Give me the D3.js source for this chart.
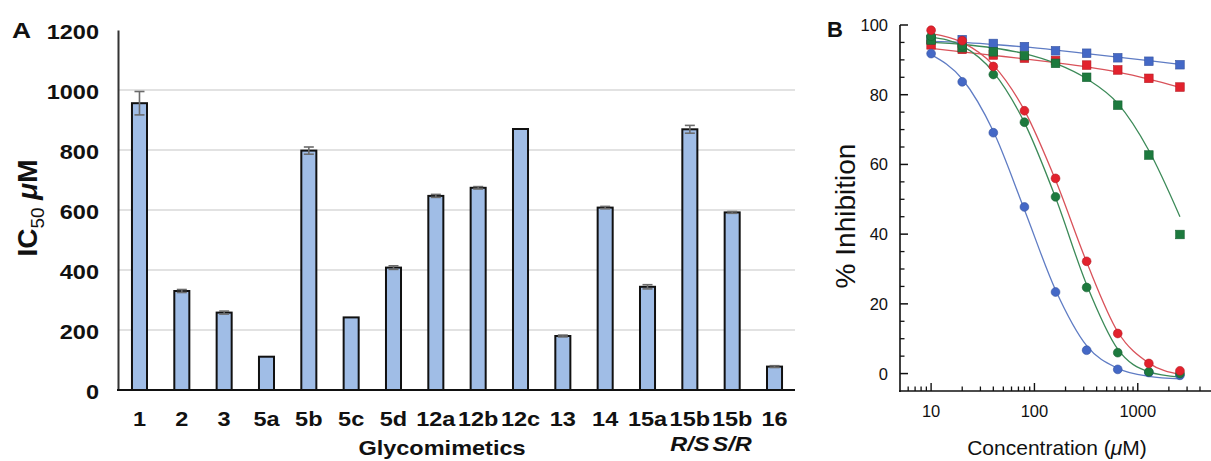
<!DOCTYPE html>
<html>
<head>
<meta charset="utf-8">
<script src="https://cdn.jsdelivr.net/npm/d3@7"></script>
<style>
html,body{margin:0;padding:0;background:#fff;}
svg{display:block;font-family:"Liberation Sans",Arial,sans-serif;}
</style>
</head>
<body>
<svg id="chart" width="1211" height="461"></svg>
<script>
// ---------- Panel A data ----------
const compoundIds = ["1","2","3","5a","5b","5c","5d","12a","12b","12c","13","14","15a","15bRS","15bSR","16"];
const compoundLabels = ["1","2","3","5a","5b","5c","5d","12a","12b","12c","13","14","15a","15b","15b","16"];
const ic50Values = [956,330,258,111,798,242,408,647,674,870,180,608,344,869,592,78];
const ic50Errors = [39,5,5,0,12,0,6,5,4,0,3,4,7,13,3,3];
const ic50Ticks = [0,200,400,600,800,1000,1200];
const ic50Grid = [200,400,600,800,1000];

// ---------- Panel B data ----------
const concentrations = [10,20,40,80,160,320,640,1280,2560];
const blueCircles = [91.8,83.7,69.1,47.8,23.4,6.7,1.2,0.3,-0.5];
const greenCircles = [96.8,94.0,85.8,72.1,50.7,24.7,6.0,0.5,0.0];
const redCircles = [98.5,95.5,88.1,75.4,56.0,32.2,11.5,2.9,0.8];
const blueSquares = [95.8,95.8,94.7,93.8,92.6,91.9,90.6,89.6,88.6];
const redSquares = [94.3,93.0,91.4,90.5,89.8,88.5,87.1,84.7,82.2];
const greenSquares = [95.7,93.5,92.3,91.2,89.0,85.0,77.0,62.7,39.9];
// fitted curves at the same concentrations
const blueCircleFit = [91.5,84.5,69.5,47,24,8,1.5,-0.8,-1.5];
const greenCircleFit = [96.5,94,86.5,72,50.5,25.5,7,0.5,-1];
const redCircleFit = [97.5,95,88.5,75.5,55.5,32,12,3,-0.3];
const blueSquareFit = [95.3,95.0,94.4,93.7,92.8,91.8,90.8,89.8,88.7];
const redSquareFit = [93.3,92.3,91.3,90.3,89.2,88,86.5,84.5,82.1];
const greenSquareFit = [95,94.4,93.4,91.8,89,84.6,77.5,64,45];
const inhibitionTicks = [0,20,40,60,80,100];
const inhibitionMinor = [5,10,15,25,30,35,45,50,55,65,70,75,85,90,95];
const concMajor = [10,100,1000];
const concMinor = [6,7,8,9,20,30,40,50,60,70,80,90,200,300,400,500,600,700,800,900,2000,3000,4000];

const svg = d3.select("#chart");
const SX = 1.12; // horizontal stretch of panel A text

// ================= Panel A =================
const yA = d3.scaleLinear().domain([0,1200]).range([390,30]);
const xA = d3.scaleBand().domain(compoundIds).range([118,796]).paddingInner(0.645).paddingOuter(0.33);
const gA = svg.append("g");

gA.selectAll("line.grid").data(ic50Grid).enter().append("line")
  .attr("x1",118).attr("x2",795)
  .attr("y1",d=>yA(d)).attr("y2",d=>yA(d))
  .attr("stroke","#d9d9d9").attr("stroke-width",1.6);

// y axis
const axA = gA.append("g").attr("transform","translate(118,0)")
  .call(d3.axisLeft(yA).tickValues(ic50Ticks).tickSize(0).tickFormat(d3.format("d")));
axA.select(".domain").attr("stroke","#333").attr("stroke-width",2);
axA.selectAll(".tick text")
  .attr("x",null).attr("dy",null).attr("y",null)
  .attr("transform","translate(-19,8) scale("+SX+",1)")
  .attr("text-anchor","end")
  .style("font-family","'Liberation Sans',Arial,sans-serif")
  .style("font-size","21px").style("font-weight","bold").attr("fill","#111");

// bars
gA.selectAll("rect.bar").data(compoundIds).enter().append("rect")
  .attr("x",d=>xA(d)).attr("width",xA.bandwidth())
  .attr("y",(d,i)=>yA(ic50Values[i]))
  .attr("height",(d,i)=>yA(0)-yA(ic50Values[i]))
  .attr("fill","#a0bde6").attr("stroke","#111").attr("stroke-width",2);

// error bars
const errG = gA.selectAll("g.err").data(compoundIds.filter((d,i)=>ic50Errors[i]>0)).enter().append("g")
  .attr("stroke","#6b6b6b").attr("stroke-width",1.6);
errG.each(function(d){
  const i = compoundIds.indexOf(d);
  const cx = xA(d)+xA.bandwidth()/2;
  const g = d3.select(this);
  const hi = yA(ic50Values[i]+ic50Errors[i]), lo = yA(ic50Values[i]-ic50Errors[i]);
  g.append("line").attr("x1",cx).attr("x2",cx).attr("y1",hi).attr("y2",lo);
  g.append("line").attr("x1",cx-5).attr("x2",cx+5).attr("y1",hi).attr("y2",hi);
  g.append("line").attr("x1",cx-5).attr("x2",cx+5).attr("y1",lo).attr("y2",lo);
});

// x baseline
gA.append("line").attr("x1",117).attr("x2",795).attr("y1",yA(0)).attr("y2",yA(0))
  .attr("stroke","#111").attr("stroke-width",2);

// x labels
gA.selectAll("text.xl").data(compoundIds).enter().append("text")
  .attr("transform",(d,i)=>"translate("+(xA(d)+xA.bandwidth()/2)+",426) scale("+SX+",1)")
  .attr("text-anchor","middle").style("font-size","21px").style("font-weight","bold").attr("fill","#111")
  .text((d,i)=>compoundLabels[i]);

// stereo labels
gA.append("text")
  .attr("transform","translate("+(xA("15bRS")+xA.bandwidth()/2)+",451) scale("+SX+",1)")
  .attr("text-anchor","middle").style("font-size","21px").style("font-weight","bold").style("font-style","italic").attr("fill","#111")
  .text("R/S");
gA.append("text")
  .attr("transform","translate("+(xA("15bSR")+xA.bandwidth()/2)+",451) scale("+SX+",1)")
  .attr("text-anchor","middle").style("font-size","21px").style("font-weight","bold").style("font-style","italic").attr("fill","#111")
  .text("S/R");

// x title
gA.append("text").attr("transform","translate(442,455) scale("+SX+",1)")
  .attr("text-anchor","middle").style("font-size","21px").style("font-weight","bold").attr("fill","#111")
  .text("Glycomimetics");

// y title
const yt = gA.append("text").attr("transform","translate(37,208) rotate(-90)")
  .attr("text-anchor","middle").style("font-size","28px").style("font-weight","bold").attr("fill","#111");
yt.append("tspan").text("IC");
yt.append("tspan").attr("dy",7).style("font-size","19px").style("font-weight","normal").text("50");
yt.append("tspan").attr("dy",-7).text(" ");
yt.append("tspan").style("font-style","italic").text("μ");
yt.append("tspan").text("M");

// panel letter
svg.append("text").attr("transform","translate(12,38) scale(1.2,1)")
  .style("font-size","22px").style("font-weight","bold").attr("fill","#111").text("A");

// ================= Panel B =================
const xB = d3.scaleLog().domain([5,5000]).range([900,1210]);
const yB = d3.scaleLinear().domain([-5,100]).range([391,25]);
const gB = svg.append("g");

// axes lines
gB.append("line").attr("x1",900).attr("x2",900).attr("y1",yB(100)).attr("y2",yB(-5)+1)
  .attr("stroke","#111").attr("stroke-width",1.6);
gB.append("line").attr("x1",899).attr("x2",1211).attr("y1",yB(-5)).attr("y2",yB(-5))
  .attr("stroke","#111").attr("stroke-width",1.6);

// y ticks (inward)
gB.selectAll("line.ymaj").data(inhibitionTicks).enter().append("line")
  .attr("x1",900).attr("x2",908).attr("y1",d=>yB(d)).attr("y2",d=>yB(d))
  .attr("stroke","#111").attr("stroke-width",1.5);
gB.selectAll("line.ymin").data(inhibitionMinor).enter().append("line")
  .attr("x1",900).attr("x2",904.5).attr("y1",d=>yB(d)).attr("y2",d=>yB(d))
  .attr("stroke","#111").attr("stroke-width",1.3);
gB.selectAll("text.yl").data(inhibitionTicks).enter().append("text")
  .attr("x",888).attr("y",d=>yB(d)+6).attr("text-anchor","end")
  .style("font-size","16.5px").attr("fill","#111").text(d=>d);

// x ticks (inward / upward)
gB.selectAll("line.xmaj").data(concMajor).enter().append("line")
  .attr("x1",d=>xB(d)).attr("x2",d=>xB(d)).attr("y1",yB(-5)).attr("y2",yB(-5)-8)
  .attr("stroke","#111").attr("stroke-width",1.4);
gB.selectAll("line.xmin").data(concMinor).enter().append("line")
  .attr("x1",d=>xB(d)).attr("x2",d=>xB(d)).attr("y1",yB(-5)).attr("y2",yB(-5)-4.5)
  .attr("stroke","#111").attr("stroke-width",1.3);
gB.selectAll("text.xl").data(concMajor).enter().append("text")
  .attr("x",d=>xB(d)).attr("y",417).attr("text-anchor","middle")
  .style("font-size","16.5px").attr("fill","#111").text(d=>d);

// titles
const xt = gB.append("text").attr("x",1057).attr("y",455).attr("text-anchor","middle")
  .style("font-size","21px").attr("fill","#111");
xt.append("tspan").text("Concentration (");
xt.append("tspan").style("font-style","italic").text("μ");
xt.append("tspan").text("M)");
gB.append("text").attr("transform","translate(855,216) rotate(-90)").attr("text-anchor","middle")
  .style("font-size","28px").attr("fill","#111").text("% Inhibition");
svg.append("text").attr("x",827).attr("y",37).style("font-size","22px").style("font-weight","bold")
  .attr("fill","#111").text("B");

// series
const BLUE="#4468c6", RED="#e2222d", GREEN="#1d7a3e";
const series = [
  {pts:blueSquares, fit:blueSquareFit, color:BLUE, line:"#5f7cc4", shape:"square"},
  {pts:redSquares, fit:redSquareFit, color:RED, line:"#d9525a", shape:"square"},
  {pts:greenSquares, fit:greenSquareFit, color:GREEN, line:"#3c8a58", shape:"square"},
  {pts:blueCircles, fit:blueCircleFit, color:BLUE, line:"#5f7cc4", shape:"circle"},
  {pts:greenCircles, fit:greenCircleFit, color:GREEN, line:"#3c8a58", shape:"circle"},
  {pts:redCircles, fit:redCircleFit, color:RED, line:"#d9525a", shape:"circle"}
];
const lineGen = d3.line().x((d,i)=>xB(concentrations[i])).y(d=>yB(d)).curve(d3.curveMonotoneX);
series.forEach(s=>{
  gB.append("path").attr("d",lineGen(s.fit)).attr("fill","none")
    .attr("stroke",s.line).attr("stroke-width",1.3);
});
series.forEach(s=>{
  if(s.shape==="circle"){
    gB.selectAll(null).data(s.pts).enter().append("circle")
      .attr("cx",(d,i)=>xB(concentrations[i])).attr("cy",d=>yB(d)).attr("r",4.4)
      .attr("fill",s.color).attr("stroke",d3.color(s.color).darker(0.6)).attr("stroke-width",0.6);
  } else {
    const h=4.3;
    gB.selectAll(null).data(s.pts).enter().append("rect")
      .attr("x",(d,i)=>xB(concentrations[i])-h).attr("y",d=>yB(d)-h)
      .attr("width",2*h).attr("height",2*h)
      .attr("fill",s.color).attr("stroke",d3.color(s.color).darker(0.6)).attr("stroke-width",0.6);
  }
});
</script>
</body>
</html>
